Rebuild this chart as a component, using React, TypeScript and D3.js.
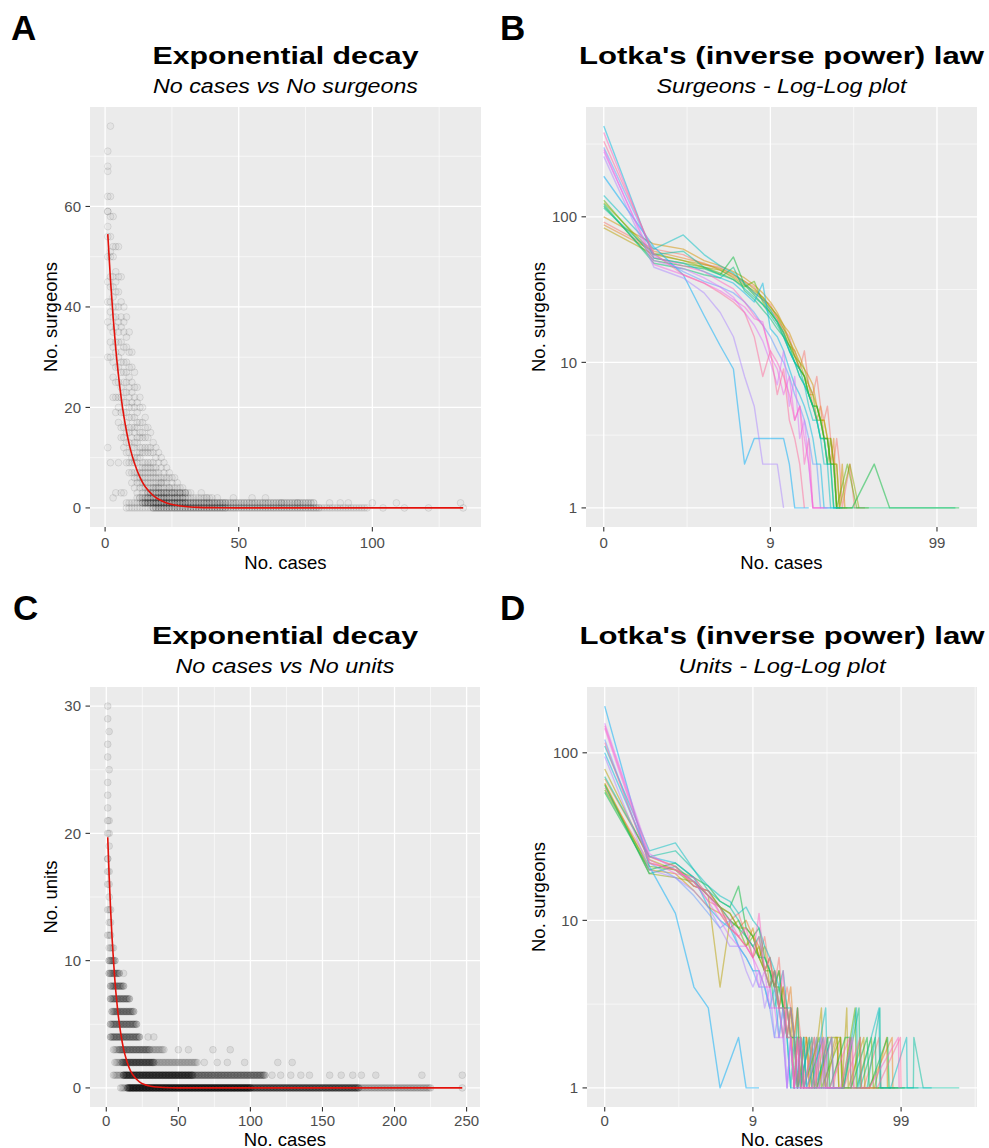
import React from "react";
import * as d3 from "d3";

const FONT = "'Liberation Sans', Arial, Helvetica, sans-serif";

// ---------------- Panel A : No cases vs No surgeons ----------------
const surgeonsFit: [number, number][] = [
  [1, 54.5], [2, 45.5], [3, 38], [4, 31.6], [5, 26.4], [6, 22], [7, 18.3], [8, 15.3], [9, 12.7],
  [10, 10.6], [12, 7.4], [14, 5.1], [16, 3.55], [18, 2.47], [20, 1.72], [23, 1], [26, 0.58],
  [30, 0.28], [35, 0.11], [40, 0.05], [50, 0.01], [70, 0], [100, 0], [134, 0],
];
const surgeonsScatter: [number, number[]][] = [
  [1, [71, 68, 67, 62, 59, 59, 56, 54, 50, 45, 41, 37, 30, 12]],
  [2, [76, 62, 58, 54, 51, 50, 46, 44, 41, 39, 36, 33, 30, 9]],
  [3, [58, 52, 50, 46, 44, 42, 40, 38, 35, 32, 29, 26, 22, 2]],
  [4, [52, 47, 45, 43, 40, 38, 36, 33, 31, 28, 25, 22, 19, 3]],
  [5, [52, 46, 43, 40, 37, 35, 33, 30, 28, 25, 22, 20, 17, 9]],
  [6, [46, 41, 38, 36, 33, 31, 29, 27, 24, 22, 19, 16, 14, 3]],
  [7, [40, 37, 35, 32, 29, 27, 25, 23, 21, 19, 16, 14, 12, 3]],
  [8, [38, 34, 32, 29, 27, 25, 23, 21, 19, 17, 15, 13, 11, 9]],
  [9, [35, 31, 28, 26, 24, 22, 20, 18, 16, 15, 13, 11, 9, 7]],
  [10, [31, 28, 25, 23, 21, 20, 18, 16, 14, 12, 10, 9, 7, 5]],
  [11, [27, 24, 22, 20, 18, 16, 15, 13, 12, 10, 9, 7, 6, 4]],
  [12, [24, 21, 19, 17, 16, 14, 13, 11, 10, 9, 7, 6, 5, 3]],
  [13, [22, 20, 17, 15, 14, 12, 11, 10, 8, 7, 6, 5, 4, 2]],
  [14, [20, 17, 15, 14, 12, 11, 9, 8, 7, 6, 5, 4, 3, 2]],
  [15, [18, 16, 14, 12, 11, 9, 8, 7, 6, 5, 4, 3, 2, 1]],
  [16, [16, 14, 12, 11, 9, 8, 7, 6, 5, 4, 3, 2, 2, 1]],
  [17, [15, 12, 11, 9, 8, 7, 6, 5, 4, 3, 3, 2, 1]],
  [18, [13, 11, 9, 8, 7, 6, 5, 4, 4, 3, 2, 2, 1]],
  [19, [12, 10, 8, 7, 6, 5, 4, 4, 3, 2, 2, 1]],
  [20, [11, 9, 7, 6, 5, 4, 4, 3, 3, 2, 2, 1]],
  [21, [10, 8, 6, 5, 5, 4, 3, 3, 2, 2, 1]],
  [22, [9, 7, 6, 5, 4, 3, 3, 2, 2, 1]],
  [23, [8, 6, 5, 4, 3, 3, 2, 2, 1]],
  [24, [7, 6, 4, 4, 3, 2, 2, 1]],
  [25, [6, 5, 4, 3, 3, 2, 1]],
  [26, [6, 4, 3, 3, 2, 2, 1]],
  [27, [5, 4, 3, 2, 2, 1]],
  [28, [4, 3, 3, 2, 1]],
  [29, [4, 3, 2, 2, 1]],
  [30, [3, 3, 2, 1]],
];
// [no. surgeons, first case count, last case count, no. of overlapping years]
const surgeonsRuns: [number, number, number, number][] = [
  [0, 8, 17, 1], [0, 18, 45, 3], [0, 46, 80, 2], [0, 81, 98, 1],
  [1, 8, 13, 1], [1, 14, 45, 3], [1, 46, 78, 2],
  [2, 12, 40, 1], [3, 16, 32, 1],
];
const surgeonsSingles: [number, number][] = [
  [36, 3], [38, 2], [42, 2], [48, 2], [55, 2], [60, 2], [66, 1], [72, 1], [84, 1], [88, 1],
  [91, 1], [100, 1], [104, 0], [109, 1], [112, 0], [121, 0], [133, 1], [134, 0],
];

// ---------------- Panel C : No cases vs No units ----------------
const unitsFit: [number, number][] = [
  [1, 19.7], [2, 16.6], [3, 14], [4, 11.8], [5, 10], [6, 8.4], [7, 7.1], [8, 6], [10, 4.3],
  [12, 3.05], [14, 2.2], [16, 1.55], [18, 1.1], [20, 0.8], [23, 0.48], [26, 0.29], [30, 0.15],
  [35, 0.07], [40, 0.03], [50, 0.005], [80, 0], [150, 0], [247, 0],
];
const unitsRuns: [number, number, number, number][] = [
  [0, 10, 14, 1], [0, 15, 100, 5], [0, 101, 175, 3], [0, 176, 225, 1],
  [1, 5, 11, 1], [1, 12, 60, 4], [1, 61, 110, 2],
  [2, 6, 10, 1], [2, 11, 33, 3], [2, 34, 63, 1],
  [3, 5, 8, 1], [3, 9, 30, 2], [3, 31, 40, 1],
  [4, 3, 23, 2], [5, 3, 21, 2], [6, 4, 19, 2], [7, 3, 16, 2], [8, 3, 12, 2],
  [9, 2, 9, 2], [10, 2, 6, 2], [11, 2, 5, 1], [12, 1, 3, 1], [13, 2, 3, 1], [14, 1, 3, 1],
  [15, 2, 2, 1], [16, 1, 2, 1], [17, 1, 2, 1], [18, 1, 1, 2],
];
const unitsSingles: [number, number][] = [
  [247, 0],
  [115, 1], [121, 1], [128, 1], [135, 1], [141, 1], [155, 1], [163, 1], [171, 1], [177, 1], [187, 1], [219, 1], [247, 1],
  [68, 2], [77, 2], [84, 2], [96, 2], [119, 2], [129, 2],
  [50, 3], [57, 3], [74, 3], [86, 3],
  [29, 4], [33, 4], [12, 9],
  [2, 19], [1, 20], [2, 20], [1, 21], [2, 21], [1, 22], [1, 23], [1, 24], [2, 25], [1, 26],
  [1, 27], [2, 28], [1, 29], [1, 30],
];

// ---------------- Panel B : Lotka, surgeons (y at cases = 0,1,2,...) ----------------
const lotkaSurgeons: number[][] = [
  [92, 60, 55, 47, 45, 40, 36, 33, 27, 25, 20, 17, 15, 11, 9, 12, 7, 6, 8, 5, 4, 5, 3, 2, 3, 2, 1],
  [88, 58, 52, 48, 43, 39, 35, 30, 27, 23, 20, 16, 13, 12, 9, 8, 7, 5, 4, 5, 3, 3, 2, 3, 1],
  [100, 65, 60, 50, 46, 42, 38, 34, 30, 26, 22, 18, 16, 13, 11, 9, 8, 7, 5, 4, 4, 3, 3, 2, 2, 1, 2, 1],
  [84, 55, 50, 47, 44, 40, 36, 32, 28, 24, 21, 18, 14, 12, 10, 8, 6, 6, 5, 4, 4, 3, 2, 2, 1],
  [125, 56, 50, 45, 43, 38, 34, 31, 28, 24, 21, 17, 14, 11, 10, 9, 7, 6, 4, 4, 3, 3, 2, 2, 2, 1],
  [130, 52, 48, 45, 41, 37, 33, 36, 26, 22, 19, 16, 13, 11, 9, 8, 6, 5, 5, 4, 3, 2, 3, 2, 1],
  [118, 50, 46, 44, 40, 53, 34, 29, 25, 22, 19, 15, 13, 10, 9, 8, 6, 5, 5, 4, 3, 3, 2, 2, 1],
  [122, 48, 44, 40, 38, 45, 31, 27, 23, 20, 17, 15, 12, 10, 8, 7, 6, 5, 4, 3, 3, 2, 2, 1],
  [115, 55, 58, 45, 40, 37, 32, 28, 25, 21, 18, 15, 12, 10, 9, 7, 6, 5, 4, 3, 3, 2, 2, 1],
  [140, 60, 75, 55, 46, 41, 35, 30, 27, 23, 19, 16, 12, 10, 8, 7, 5, 4, 4, 3, 2, 2, 1],
  [420, 52, 48, 42, 38, 35, 30, 26, 35, 17, 15, 12, 9, 7, 6, 5, 4, 3, 2, 2, 1],
  [190, 62, 40, 21, 13, 9, 2, 3, 3, 3, 3, 3, 2, 1],
  [300, 55, 42, 36, 33, 30, 26, 22, 18, 15, 12, 10, 8, 6, 5, 4, 3, 2, 2, 1],
  [260, 45, 38, 30, 22, 15, 8, 5, 2, 2, 2, 1],
  [280, 50, 44, 38, 33, 28, 22, 18, 14, 10, 7, 12, 5, 8, 3, 4, 2, 1, 1],
  [290, 47, 40, 35, 31, 27, 24, 20, 19, 11, 9, 6, 8, 4, 5, 3, 2, 1],
  [380, 53, 46, 42, 36, 32, 26, 21, 18, 12, 10, 8, 6, 4, 5, 2, 3, 1],
  [330, 56, 40, 35, 30, 26, 22, 15, 8, 12, 6, 9, 4, 3, 2, 1],
];
const lotkaSurgeonsTail: [number, number][][] = [
  [[29, 2], [31, 1], [36, 1]], [[27, 1]], [[30, 1]], [[28, 1]], [[29, 2], [33, 1]],
  [[28, 2], [32, 1], [38, 1]], [[30, 1], [41, 2], [51, 1], [135, 1]], [[27, 1], [50, 1], [128, 1]],
  [[26, 1]], [[25, 1]], [[24, 1]], [[16, 1]], [[22, 1]], [], [[21, 1]], [[19, 1]], [[20, 1]], [],
];

// ---------------- Panel D : Lotka, units ----------------
const lotkaUnits: number[][] = [
  [62, 22, 20, 17, 13, 12, 10, 11, 8, 7, 6, 8, 5, 4, 6, 3, 4, 3, 2, 3, 2, 1, 2, 1, 2, 1],
  [70, 24, 21, 16, 15, 12, 11, 9, 10, 8, 7, 5, 6, 4, 5, 3, 3, 4, 2, 3, 1, 2, 2, 1],
  [66, 20, 19, 15, 12, 11, 9, 8, 7, 9, 6, 5, 4, 5, 3, 4, 2, 3, 1, 2, 1],
  [80, 23, 20, 18, 14, 4, 10, 9, 9, 8, 6, 7, 4, 5, 3, 2, 3, 2, 2, 1],
  [65, 19, 18, 17, 14, 12, 9, 10, 8, 6, 7, 5, 6, 4, 3, 4, 3, 2, 1, 2, 2, 1],
  [60, 21, 20, 16, 15, 12, 11, 9, 7, 8, 6, 5, 5, 4, 4, 3, 2, 3, 2, 1, 2, 1],
  [58, 20, 22, 18, 16, 13, 12, 16, 9, 8, 9, 6, 5, 4, 5, 3, 3, 2, 2, 1, 2, 1],
  [64, 19, 21, 17, 14, 12, 10, 9, 8, 7, 6, 6, 5, 3, 4, 3, 2, 2, 1, 3, 1, 2, 1],
  [72, 24, 26, 20, 15, 13, 12, 10, 8, 7, 8, 5, 4, 5, 3, 3, 2, 1, 2, 1],
  [110, 26, 29, 20, 16, 14, 13, 11, 12, 10, 9, 7, 6, 5, 4, 5, 3, 3, 2, 2, 1],
  [100, 24, 22, 18, 12, 10, 9, 7, 6, 5, 5, 4, 3, 4, 2, 3, 2, 1, 1],
  [190, 21, 11, 4, 3, 1],
  [120, 22, 18, 14, 11, 9, 10, 7, 6, 5, 4, 4, 3, 2, 3, 2, 1, 2, 1],
  [95, 20, 18, 15, 12, 9, 7, 7, 5, 4, 5, 3, 4, 2, 2, 3, 1, 2, 1],
  [150, 25, 20, 17, 13, 10, 8, 7, 7, 6, 4, 5, 3, 3, 2, 2, 1, 2, 1],
  [140, 23, 19, 18, 14, 11, 9, 8, 7, 6, 5, 4, 4, 3, 3, 2, 3, 2, 1, 2, 1],
  [145, 24, 21, 16, 15, 11, 10, 8, 9, 6, 11, 5, 6, 4, 3, 5, 2, 3, 2, 1, 2, 1],
  [115, 22, 20, 17, 14, 12, 9, 8, 7, 6, 8, 5, 4, 5, 3, 3, 2, 2, 1, 2, 1],
];
const lotkaUnitsTail: [number, number][][] = [
  [[28, 2], [30, 1], [34, 1], [38, 2], [40, 1], [47, 1], [55, 1], [70, 2], [72, 1], [90, 1]],
  [[26, 2], [27, 1], [31, 2], [33, 2], [34, 1], [40, 1], [45, 2], [47, 1], [60, 1], [86, 2], [87, 1], [95, 1]],
  [[23, 2], [25, 1], [30, 1], [36, 2], [37, 1], [50, 1], [65, 1], [79, 2], [80, 1]],
  [[22, 2], [24, 1], [28, 3], [29, 1], [35, 2], [38, 2], [39, 1], [42, 3], [43, 1], [55, 2], [56, 1], [75, 1]],
  [[25, 2], [26, 1], [33, 2], [36, 2], [37, 1], [45, 1], [52, 2], [53, 1], [70, 1]],
  [[27, 2], [28, 1], [38, 2], [39, 1], [48, 3], [49, 1], [62, 2], [64, 1], [85, 1]],
  [[26, 1], [31, 2], [32, 1], [41, 2], [44, 2], [45, 1], [58, 2], [60, 1], [80, 2], [82, 1], [105, 1]],
  [[29, 2], [30, 1], [40, 1], [51, 3], [52, 1], [66, 2], [67, 1], [90, 1], [130, 1]],
  [[24, 2], [25, 1], [33, 2], [34, 1], [44, 1], [58, 1], [71, 3], [72, 1], [100, 1], [120, 1], [121, 2], [140, 1], [246, 1]],
  [[23, 2], [24, 1], [30, 3], [31, 1], [40, 1], [49, 3], [50, 1], [70, 3], [71, 1], [84, 1], [108, 2], [109, 1], [160, 1]],
  [[21, 2], [22, 1], [30, 1], [38, 1]],
  [[7, 2], [8, 1], [10, 1]],
  [[21, 1], [26, 2], [27, 1], [35, 1]],
  [[22, 1], [28, 2], [29, 1], [40, 1]],
  [[20, 2], [21, 1], [27, 1], [33, 2], [34, 1]],
  [[24, 1], [29, 2], [30, 1], [38, 1], [46, 2], [47, 1]],
  [[25, 2], [26, 1], [32, 1], [44, 2], [45, 1], [60, 1], [95, 2], [96, 1]],
  [[25, 1], [30, 2], [31, 1], [40, 1], [52, 2], [53, 1], [68, 1], [98, 2], [99, 1]],
];

// ---------------- ticks & labels ----------------
const ticksA_x = [0, 50, 100];
const ticksA_y = [0, 20, 40, 60];
const ticksC_x = [0, 50, 100, 150, 200, 250];
const ticksC_y = [0, 10, 20, 30];
const ticksLog_x = [0, 9, 99];
const ticksLog_y = [1, 10, 100];

// ---------------- helpers ----------------
function expand(ext: [number, number], mult = 0.05): [number, number] {
  const r = ext[1] - ext[0];
  return [ext[0] - r * mult, ext[1] + r * mult];
}

function hueColor(h: number): string {
  const L = 65, C = 100;
  const hr = (h * Math.PI) / 180;
  const U = C * Math.cos(hr), V = C * Math.sin(hr);
  const Xn = 0.95047, Yn = 1, Zn = 1.08883;
  const den = Xn + 15 * Yn + 3 * Zn;
  const un = (4 * Xn) / den, vn = (9 * Yn) / den;
  const Y = Yn * Math.pow((L + 16) / 116, 3);
  const u = U / (13 * L) + un, v = V / (13 * L) + vn;
  const X = (Y * 9 * u) / (4 * v), Z = (Y * (12 - 3 * u - 20 * v)) / (4 * v);
  const lin = [
    3.2404542 * X - 1.5371385 * Y - 0.4985314 * Z,
    -0.969266 * X + 1.8760108 * Y + 0.041556 * Z,
    0.0556434 * X - 0.2040259 * Y + 1.0572252 * Z,
  ];
  const g = lin.map((c) => {
    c = Math.max(0, Math.min(1, c));
    return c <= 0.0031308 ? 12.92 * c : 1.055 * Math.pow(c, 1 / 2.4) - 0.055;
  });
  return d3.rgb(g[0] * 255, g[1] * 255, g[2] * 255).formatHex();
}

type Frame = { left: number; right: number; top: number; bottom: number };
type Pt = { x: number; y: number; m: number };

function buildPoints(scatter: [number, number[]][], runs: [number, number, number, number][], singles: [number, number][]): Pt[] {
  const pts: Pt[] = [];
  scatter.forEach(([x, ys]) => ys.forEach((y) => pts.push({ x, y, m: 1 })));
  runs.forEach(([y, x0, x1, m]) => d3.range(x0, x1 + 1).forEach((x) => pts.push({ x, y, m })));
  singles.forEach(([x, y]) => pts.push({ x, y, m: 1 }));
  return pts;
}

function minorOf(ticks: number[], domain: [number, number]): number[] {
  const step = ticks[1] - ticks[0];
  const out: number[] = [];
  for (let v = ticks[0] - step / 2; v <= ticks[ticks.length - 1] + step / 2 + 1e-9; v += step) {
    if (v >= domain[0] && v <= domain[1]) out.push(v);
  }
  return out;
}

const BG = "#EBEBEB";
const TICK_COL = "#333333";
const LABEL_COL = "#4D4D4D";

type Spacing = { tickDy: number; titleDy: number };

function Headings(props: {
  f: Frame; rowOff: number; letterX: number; letter: string; title: string; titleW: number;
  subtitle: string; subW: number;
}) {
  const { f, rowOff, letterX, letter, title, titleW, subtitle, subW } = props;
  const cx = (f.left + f.right) / 2;
  return (
    <g fontFamily={FONT}>
      <text x={letterX} y={40 + rowOff} fontSize={35} fontWeight="bold" fill="#000">{letter}</text>
      <text x={cx} y={64 + rowOff} fontSize={24.5} fontWeight="bold" textAnchor="middle"
        textLength={titleW} lengthAdjust="spacingAndGlyphs" fill="#000">{title}</text>
      <text x={cx} y={93 + rowOff} fontSize={19.5} fontStyle="italic" textAnchor="middle"
        textLength={subW} lengthAdjust="spacingAndGlyphs" fill="#000">{subtitle}</text>
    </g>
  );
}

function Axes(props: {
  f: Frame; xs: (v: number) => number; ys: (v: number) => number;
  xTicks: number[]; yTicks: number[]; xLab: (v: number) => string; yLab: (v: number) => string;
  xMinor: number[]; yMinor: number[]; xTitle: string; yTitle: string; yTitleX: number; sp: Spacing;
}) {
  const { f, xs, ys, xTicks, yTicks, xLab, yLab, xMinor, yMinor, xTitle, yTitle, yTitleX, sp } = props;
  const cx = (f.left + f.right) / 2, cy = (f.top + f.bottom) / 2;
  return (
    <g fontFamily={FONT}>
      <rect x={f.left} y={f.top} width={f.right - f.left} height={f.bottom - f.top} fill={BG} />
      {yMinor.map((v) => <line key={"ym" + v} x1={f.left} x2={f.right} y1={ys(v)} y2={ys(v)} stroke="#fff" strokeWidth={0.6} />)}
      {xMinor.map((v) => <line key={"xm" + v} y1={f.top} y2={f.bottom} x1={xs(v)} x2={xs(v)} stroke="#fff" strokeWidth={0.6} />)}
      {yTicks.map((v) => <line key={"yg" + v} x1={f.left} x2={f.right} y1={ys(v)} y2={ys(v)} stroke="#fff" strokeWidth={1.3} />)}
      {xTicks.map((v) => <line key={"xg" + v} y1={f.top} y2={f.bottom} x1={xs(v)} x2={xs(v)} stroke="#fff" strokeWidth={1.3} />)}
      {yTicks.map((v) => (
        <g key={"yt" + v}>
          <line x1={f.left - 4.5} x2={f.left} y1={ys(v)} y2={ys(v)} stroke={TICK_COL} strokeWidth={1.1} />
          <text x={f.left - 9} y={ys(v)} dy="0.36em" textAnchor="end" fontSize={15} fill={LABEL_COL}>{yLab(v)}</text>
        </g>
      ))}
      {xTicks.map((v) => (
        <g key={"xt" + v}>
          <line y1={f.bottom} y2={f.bottom + 4.5} x1={xs(v)} x2={xs(v)} stroke={TICK_COL} strokeWidth={1.1} />
          <text x={xs(v)} y={f.bottom + sp.tickDy} textAnchor="middle" fontSize={15} fill={LABEL_COL}>{xLab(v)}</text>
        </g>
      ))}
      <text x={cx} y={f.bottom + sp.titleDy} textAnchor="middle" fontSize={18.5} fill="#000">{xTitle}</text>
      <text transform={`translate(${yTitleX},${cy}) rotate(-90)`} textAnchor="middle" fontSize={18.5} fill="#000">{yTitle}</text>
    </g>
  );
}

function DecayPanel(props: {
  f: Frame; pts: Pt[]; fit: [number, number][]; xTicks: number[]; yTicks: number[];
  xTitle: string; yTitle: string; yTitleX: number; sp: Spacing; alpha: number; fillAlpha: number;
}) {
  const { f, pts, fit, xTicks, yTicks, xTitle, yTitle, yTitleX, sp, alpha, fillAlpha } = props;
  const xDom = expand(d3.extent(pts.map((p) => p.x).concat(fit.map((d) => d[0]))) as [number, number]);
  const yDom = expand(d3.extent(pts.map((p) => p.y)) as [number, number]);
  const xs = d3.scaleLinear().domain(xDom).range([f.left, f.right]);
  const ys = d3.scaleLinear().domain(yDom).range([f.bottom, f.top]);
  const line = d3.line<[number, number]>().x((d) => xs(d[0])).y((d) => ys(d[1])).curve(d3.curveMonotoneX);
  return (
    <g>
      <Axes f={f} xs={xs} ys={ys} xTicks={xTicks} yTicks={yTicks} xLab={(v) => String(v)} yLab={(v) => String(v)}
        xMinor={minorOf(xTicks, xDom)} yMinor={minorOf(yTicks, yDom)} xTitle={xTitle} yTitle={yTitle}
        yTitleX={yTitleX} sp={sp} />
      <g filter="url(#soft)">
        {pts.map((p, i) => (
          <circle key={i} cx={xs(p.x)} cy={ys(p.y)} r={3.4} fill="#000"
            fillOpacity={1 - Math.pow(1 - fillAlpha, p.m)} stroke="#000"
            strokeOpacity={1 - Math.pow(1 - alpha, p.m)} strokeWidth={0.9} />
        ))}
      </g>
      <path d={line(fit) || ""} fill="none" stroke="#E3120B" strokeWidth={1.6} />
    </g>
  );
}

function LotkaPanel(props: {
  f: Frame; series: number[][]; tails: [number, number][][]; xTitle: string; yTitle: string;
  yTitleX: number; sp: Spacing;
}) {
  const { f, series, tails, xTitle, yTitle, yTitleX, sp } = props;
  const data: [number, number][][] = series.map((ys, i) =>
    (ys.map((y, x) => [x, y] as [number, number])).concat(tails[i])
  );
  const tx = (x: number) => Math.log10(x + 1);
  const ty = (y: number) => Math.log10(y);
  const all = data.flat();
  const xDom = expand(d3.extent(all.map((d) => tx(d[0]))) as [number, number]);
  const yDom = expand(d3.extent(all.map((d) => ty(d[1]))) as [number, number]);
  const xl = d3.scaleLinear().domain(xDom).range([f.left, f.right]);
  const yl = d3.scaleLinear().domain(yDom).range([f.bottom, f.top]);
  const xs = (v: number) => xl(tx(v));
  const ys = (v: number) => yl(ty(v));
  const xMinor = [0.5, 1.5, 2.5].filter((v) => v >= xDom[0] && v <= xDom[1]).map((v) => Math.pow(10, v) - 1);
  const yMinor = [0.5, 1.5, 2.5].filter((v) => v >= yDom[0] && v <= yDom[1]).map((v) => Math.pow(10, v));
  const n = data.length;
  const colors = data.map((_, i) => hueColor(15 + (360 * i) / n));
  const line = d3.line<[number, number]>().x((d) => xs(d[0])).y((d) => ys(d[1]));
  return (
    <g>
      <Axes f={f} xs={xs} ys={ys} xTicks={ticksLog_x} yTicks={ticksLog_y} xLab={(v) => String(v)} yLab={(v) => String(v)}
        xMinor={xMinor} yMinor={yMinor} xTitle={xTitle} yTitle={yTitle} yTitleX={yTitleX} sp={sp} />
      <g filter="url(#softLine)">
        {data.map((d, i) => (
          <path key={i} d={line(d) || ""} fill="none" stroke={colors[i]} strokeOpacity={0.5} strokeWidth={1.4} strokeLinejoin="round" />
        ))}
      </g>
    </g>
  );
}

export default function App() {
  const fA: Frame = { left: 90, right: 481, top: 107, bottom: 527 };
  const fB: Frame = { left: 586, right: 977, top: 107, bottom: 527 };
  const fC: Frame = { left: 90, right: 480, top: 687, bottom: 1107 };
  const fD: Frame = { left: 587, right: 977, top: 687, bottom: 1107 };
  const spTop: Spacing = { tickDy: 21, titleDy: 41.5 };
  const spBottom: Spacing = { tickDy: 18.5, titleDy: 38.5 };
  const ptsA = buildPoints(surgeonsScatter, surgeonsRuns, surgeonsSingles);
  const ptsC = buildPoints([], unitsRuns, unitsSingles);
  return (
    <div style={{ position: "absolute", left: 0, top: 0 }}>
      <svg width={989} height={1148} style={{ display: "block", background: "#fff" }}>
        <defs>
          <filter id="soft" x="-5%" y="-5%" width="110%" height="110%">
            <feGaussianBlur stdDeviation={0.7} />
          </filter>
          <filter id="softLine" x="-5%" y="-5%" width="110%" height="110%">
            <feGaussianBlur stdDeviation={0.4} />
          </filter>
        </defs>
        <Headings f={fA} rowOff={0} letterX={11} letter="A" title="Exponential decay" titleW={266}
          subtitle="No cases vs No surgeons" subW={265} />
        <Headings f={fB} rowOff={0} letterX={500} letter="B" title="Lotka's (inverse power) law" titleW={405}
          subtitle="Surgeons - Log-Log plot" subW={250} />
        <Headings f={fC} rowOff={580} letterX={13} letter="C" title="Exponential decay" titleW={266}
          subtitle="No cases vs No units" subW={219} />
        <Headings f={fD} rowOff={580} letterX={500} letter="D" title="Lotka's (inverse power) law" titleW={405}
          subtitle="Units - Log-Log plot" subW={207} />
        <DecayPanel f={fA} pts={ptsA} fit={surgeonsFit} xTicks={ticksA_x} yTicks={ticksA_y}
          xTitle="No. cases" yTitle="No. surgeons" yTitleX={57} sp={spTop} alpha={0.1} fillAlpha={0.03} />
        <LotkaPanel f={fB} series={lotkaSurgeons} tails={lotkaSurgeonsTail} xTitle="No. cases" yTitle="No. surgeons"
          yTitleX={545} sp={spTop} />
        <DecayPanel f={fC} pts={ptsC} fit={unitsFit} xTicks={ticksC_x} yTicks={ticksC_y}
          xTitle="No. cases" yTitle="No. units" yTitleX={57} sp={spBottom} alpha={0.1} fillAlpha={0.07} />
        <LotkaPanel f={fD} series={lotkaUnits} tails={lotkaUnitsTail} xTitle="No. cases" yTitle="No. surgeons"
          yTitleX={545} sp={spBottom} />
      </svg>
    </div>
  );
}
